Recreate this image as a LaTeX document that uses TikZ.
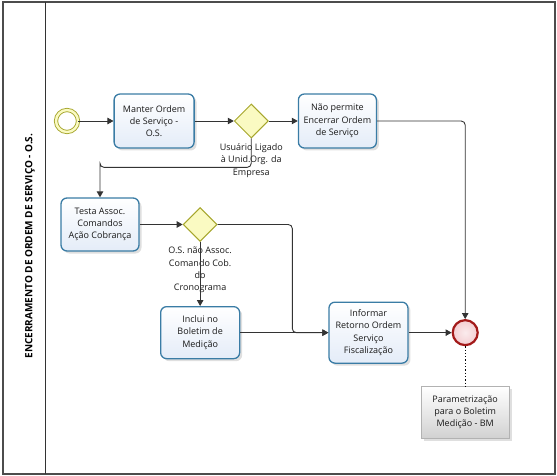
\documentclass[tikz,border=0pt]{standalone}
\usepackage{fontspec}
\setmainfont{Open Sans}
\usetikzlibrary{arrows.meta,positioning,shapes.geometric,shadows}

\definecolor{taskline}{HTML}{3A7CA5}
\definecolor{taskfill}{HTML}{E4ECF8}
\definecolor{gateline}{HTML}{A6A62C}
\definecolor{gatefill}{HTML}{FAFAC2}
\definecolor{endline}{HTML}{A31A1A}
\definecolor{endfill}{HTML}{F4CED2}
\definecolor{flowline}{HTML}{333333}

\begin{document}
\begin{tikzpicture}[
  x=1pt, y=-1pt,
  font=\fontsize{9}{12.3}\selectfont,
  task/.style={rectangle, draw=taskline, line width=1.3pt, top color=white,
    bottom color=taskfill, rounded corners=6pt, minimum width=80pt,
    minimum height=54pt, align=center, inner sep=1pt, text=black!90,
    drop shadow={opacity=0.25, shadow xshift=2.5pt, shadow yshift=-2.5pt}},
  gate/.style={diamond, aspect=1, draw=gateline, line width=1pt, fill=gatefill,
    minimum width=34pt, minimum height=34pt, inner sep=0pt},
  gatelabel/.style={align=center, inner sep=0pt, text=black!90},
  startev/.style={circle, draw=gateline, double=gatefill, double distance=2.4pt,
    line width=0.9pt, fill=white, minimum size=22pt, inner sep=0pt},
  endev/.style={circle, draw=endline, line width=2.2pt, inner color=endfill!40,
    outer color=endfill, minimum size=25pt, inner sep=0pt},
  note/.style={rectangle, draw=black!30, top color=white, bottom color=black!18,
    minimum width=88pt, minimum height=52pt, align=center, inner sep=1pt,
    text=black!90,
    drop shadow={opacity=0.25, shadow xshift=3pt, shadow yshift=-3pt}},
  arrow/.style={-{Triangle[length=6pt, width=6.5pt]}, draw=flowline,
    line width=0.9pt, rounded corners=4pt}
]
  \useasboundingbox (0,0) rectangle (557,476);
  % pool and lane
  \draw[black!70, line width=1.2pt] (3,2) rectangle (555,474);
  \draw[black!80, line width=1pt] (45,2) -- (45,474);
  \node[rotate=90, font=\fontsize{10}{12}\selectfont\bfseries] (lane) at (30,246)
    {ENCERRAMENTO DE ORDEM DE SERVIÇO - O.S.};

  % first row
  \node[startev] (start) at (67,121) {};
  \node[task, right=35pt of start] (manter) {Manter Ordem\\de Serviço -\\O.S.};
  \node[gate, right=39pt of manter] (usuario) {};
  \node[task, right=29pt of usuario, minimum width=78pt] (naopermite)
    {Não permite\\Encerrar Ordem\\de Serviço};

  % second and third rows
  \node[task, minimum width=78pt, minimum height=53pt] (testa) at (100,224.5)
    {Testa Assoc.\\Comandos\\Ação Cobrança};
  \node[gate, right=43pt of testa] (assoc) {};
  \node[task, below=64pt of assoc, minimum width=79pt, minimum height=52pt] (inclui)
    {Inclui no\\Boletim de\\Medição};
  \node[task, right=88pt of inclui, minimum width=79pt, minimum height=61pt] (informar)
    {Informar\\Retorno Ordem\\Serviço\\Fiscalização};
  \node[endev, right=43pt of informar] (fim) {};
  \node[note, below=40pt of fim] (param) {Parametrização\\para o Boletim\\Medição - BM};

  % gateway labels
  \node[gatelabel, below=5pt of usuario] (usuariolbl)
    {Usuário Ligado\\à Unid.Org. da\\Empresa};
  \node[gatelabel, below=5pt of assoc] (assoclbl)
    {O.S. não Assoc.\\Comando Cob.\\do\\Cronograma};

  % flows
  \draw[arrow] (start) -- (manter);
  \draw[arrow] (manter) -- (usuario);
  \draw[arrow] (usuario) -- (naopermite);
  \draw[arrow] (naopermite.east) -| (fim);
  \draw[arrow] (usuario.south) |- ([yshift=30pt]testa.north) -| (testa);
  \draw[arrow] (testa) -- (assoc);
  \draw[arrow] (assoc) -- (inclui);
  \draw[arrow] (inclui) -- (informar);
  \draw[arrow] (assoc.east) -| ([xshift=-36pt]informar.west) -- (informar.west);
  \draw[arrow] (informar) -- (fim);
  \draw[black, line width=1.3pt, dotted] (fim) -- (param);
\end{tikzpicture}
\end{document}
